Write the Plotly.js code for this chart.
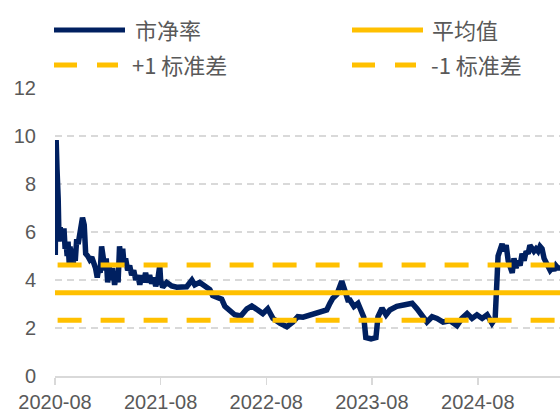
<!DOCTYPE html>
<html>
<head>
<meta charset="utf-8">
<script src="https://cdn.plot.ly/plotly-3.0.1.min.js"></script>
<style>html,body{margin:0;padding:0;background:#fff;}#chart{width:560px;height:417px;}</style>
</head>
<body>
<div id="chart"></div>
<script>
// ---- data ----
const dates = [
"2020-08-02","2020-08-05","2020-08-08","2020-08-12","2020-08-15","2020-08-19","2020-08-22","2020-08-26","2020-08-29","2020-09-01",
"2020-09-05","2020-09-08","2020-09-12","2020-09-15","2020-09-19","2020-09-22","2020-09-26","2020-09-29","2020-10-03","2020-10-06",
"2020-10-10","2020-10-15","2020-10-20","2020-10-25","2020-10-30","2020-11-04","2020-11-10","2020-11-15","2020-11-22","2020-11-29",
"2020-12-06","2020-12-13","2020-12-19","2020-12-25","2020-12-30","2021-01-04","2021-01-09","2021-01-14","2021-01-20","2021-01-25",
"2021-01-30","2021-02-04","2021-02-09","2021-02-16","2021-02-23","2021-03-02","2021-03-07","2021-03-12","2021-03-18","2021-03-23",
"2021-03-28","2021-04-02","2021-04-09","2021-04-16","2021-04-23","2021-04-30","2021-05-07","2021-05-14","2021-05-21","2021-05-28",
"2021-06-03","2021-06-10","2021-06-17","2021-06-24","2021-07-01","2021-07-08","2021-07-15","2021-07-22","2021-07-29","2021-08-01",
"2021-08-08","2021-08-22","2021-09-08","2021-09-26","2021-10-13","2021-10-30","2021-11-17","2021-11-27","2021-12-14","2021-12-31",
"2022-01-18","2022-01-28","2022-02-14","2022-02-28","2022-03-11","2022-03-28","2022-04-14","2022-05-05","2022-05-26","2022-06-12",
"2022-07-03","2022-07-20","2022-08-06","2022-08-24","2022-09-17","2022-10-11","2022-11-01","2022-11-18","2022-12-06","2022-12-30",
"2023-01-23","2023-02-13","2023-02-26","2023-03-09","2023-03-19","2023-04-02","2023-04-12","2023-04-19","2023-04-30","2023-05-10",
"2023-05-17","2023-05-31","2023-06-14","2023-06-27","2023-07-04","2023-07-11","2023-07-29","2023-08-15","2023-08-22","2023-09-05",
"2023-09-19","2023-10-02","2023-10-26","2023-11-23","2023-12-18","2024-01-04","2024-01-21","2024-02-07","2024-02-25","2024-03-13",
"2024-04-03","2024-04-27","2024-05-21","2024-06-07","2024-06-25","2024-07-12","2024-07-29","2024-08-16","2024-09-02","2024-09-19",
"2024-09-30","2024-10-03","2024-10-07","2024-10-10","2024-10-17","2024-10-24","2024-10-31","2024-11-07","2024-11-14","2024-11-21",
"2024-11-28","2024-12-04","2024-12-11","2024-12-18","2024-12-25","2025-01-01","2025-01-08","2025-01-15","2025-01-22","2025-01-28",
"2025-02-04","2025-02-11","2025-02-18","2025-02-25","2025-03-04","2025-03-11","2025-03-18","2025-03-25","2025-04-01","2025-04-08",
"2025-04-15","2025-04-21","2025-04-28","2025-05-05","2025-05-12"
];
const pb = [
5.04,9.83,8.6,7.4,5.6,6.2,5.7,6.1,5.9,6.15,
5.3,5.6,5.0,5.6,4.7,5.4,4.8,5.3,4.7,5.1,
4.8,5.7,5.5,5.9,6.2,6.6,6.3,5.1,5.0,4.85,
4.95,4.75,4.5,4.1,4.5,4.3,5.4,5.0,4.4,4.9,
3.9,4.6,4.0,4.5,3.8,4.3,3.9,5.4,4.8,5.3,
4.6,4.9,4.4,4.6,4.2,4.4,4.0,4.2,3.8,4.2,
3.9,4.3,3.9,4.2,3.85,4.1,3.75,4.0,4.6,4.0,
3.7,3.9,3.75,3.7,3.7,3.72,4.0,3.8,3.9,3.75,
3.6,3.35,3.28,3.2,2.9,2.75,2.55,2.5,2.8,2.92,
2.75,2.6,2.8,2.4,2.2,2.05,2.25,2.47,2.45,2.55,
2.6,2.7,2.75,3.03,3.24,3.4,3.65,3.95,3.55,3.17,
3.17,2.9,3.03,2.7,2.45,1.6,1.55,1.6,2.47,2.83,
2.55,2.75,2.9,2.97,3.03,2.8,2.55,2.25,2.47,2.4,
2.25,2.3,2.1,2.4,2.6,2.4,2.55,2.4,2.55,2.2,
2.4,2.9,4.2,5.0,5.3,5.5,5.2,5.45,4.8,4.5,
4.3,4.9,4.5,4.8,4.6,5.1,4.8,5.2,5.1,5.45,
5.35,5.2,5.3,5.2,5.4,5.3,4.9,4.7,4.6,4.4,
4.5,4.4,4.6,4.5,4.5
];
const meanValue = 3.47;
const plusOneStd = 4.62;
const minusOneStd = 2.32;
const xStart = "2020-08-01";
const xEnd = "2025-05-12";
const dashStart = "2020-08-10";
const tickDates = ["2020-08-01","2021-08-01","2022-08-01","2023-08-01","2024-08-01"];
const tickLabels = ["2020-08","2021-08","2022-08","2023-08","2024-08"];
const legendLabels = ["市净率","平均值","+1 标准差","-1 标准差"];
const yTicks = [0,2,4,6,8,10,12];

// ---- styling ----
const NAVY = "#002060", GOLD = "#FFC000", GREY = "#595959", LIGHT = "#D9D9D9";
const ML = 55, MR = 0, MT = 88, MB = 41, W = 560, H = 417;
const PW = W - ML - MR, PH = H - MT - MB;
const px2x = p => (p - ML) / PW;
const py2y = p => (H - MB - p) / PH;

const traces = [
  {x: dates, y: pb, type: "scatter", mode: "lines", name: legendLabels[0],
   line: {color: NAVY, width: 5.5}, showlegend: false, hoverinfo: "skip"},
  {x: [xStart, xEnd], y: [meanValue, meanValue], type: "scatter", mode: "lines", name: legendLabels[1],
   line: {color: GOLD, width: 5}, showlegend: false, hoverinfo: "skip"},
  {x: [dashStart, xEnd], y: [plusOneStd, plusOneStd], type: "scatter", mode: "lines", name: legendLabels[2],
   line: {color: GOLD, width: 5, dash: "24px,19px"}, showlegend: false, hoverinfo: "skip"},
  {x: [dashStart, xEnd], y: [minusOneStd, minusOneStd], type: "scatter", mode: "lines", name: legendLabels[3],
   line: {color: GOLD, width: 5, dash: "24px,19px"}, showlegend: false, hoverinfo: "skip"}
];

// manual legend (2 columns x 2 rows)
const legendItems = [
  {label: legendLabels[0], color: NAVY, dash: "solid", lx0: 54, lx1: 125, tx: 133, y: 30},
  {label: legendLabels[1], color: GOLD, dash: "solid", lx0: 352, lx1: 423, tx: 430, y: 30},
  {label: legendLabels[2], color: GOLD, dash: "23px,20px", lx0: 54, lx1: 118, tx: 130, y: 65},
  {label: legendLabels[3], color: GOLD, dash: "23px,20px", lx0: 352, lx1: 416, tx: 429, y: 65}
];
const shapes = legendItems.map(it => ({
  type: "line", xref: "paper", yref: "paper",
  x0: px2x(it.lx0), x1: px2x(it.lx1), y0: py2y(it.y), y1: py2y(it.y),
  line: {color: it.color, width: 5, dash: it.dash}
}));
const annotations = legendItems.map(it => ({
  text: it.label, xref: "paper", yref: "paper", x: px2x(it.tx), y: py2y(it.y - 1),
  xanchor: "left", yanchor: "middle", showarrow: false,
  font: {family: "Noto Sans CJK SC, Noto Sans, sans-serif", size: 22, color: GREY}
}));

const layout = {
  width: W, height: H,
  margin: {l: ML, r: MR, t: MT, b: MB, pad: 0},
  paper_bgcolor: "#fff", plot_bgcolor: "#fff",
  showlegend: false,
  font: {family: "Liberation Sans, Arial, sans-serif", size: 20, color: GREY},
  xaxis: {
    type: "date", range: [xStart, xEnd],
    tickvals: tickDates, ticktext: tickLabels,
    showgrid: false, zeroline: false,
    showline: true, linecolor: LIGHT, linewidth: 1.5,
    ticks: "outside", ticklen: 7, tickwidth: 1.5, tickcolor: LIGHT,
    tickfont: {size: 20, color: GREY}
  },
  yaxis: {
    range: [0, 12], tickvals: yTicks,
    showgrid: true, gridcolor: LIGHT, gridwidth: 1.3, griddash: "7px,5px",
    zeroline: false, showline: false, ticks: "",
    ticklabelstandoff: 18,
    tickfont: {size: 20, color: GREY}
  },
  shapes: shapes,
  annotations: annotations
};

Plotly.newPlot("chart", traces, layout, {staticPlot: true, displayModeBar: false});
</script>
</body>
</html>
